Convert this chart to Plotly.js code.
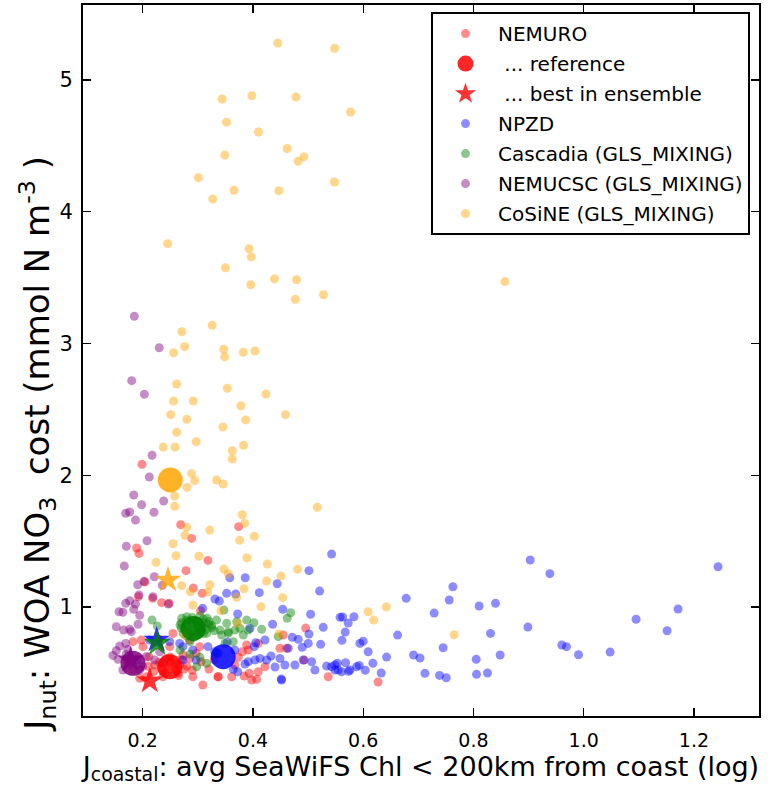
<!DOCTYPE html>
<html>
<head>
<meta charset="utf-8">
<script src="https://cdn.plot.ly/plotly-3.0.1.min.js"></script>
<style>html,body{margin:0;padding:0;background:#fff;}</style>
</head>
<body>
<div id="chart" style="width:784px;height:786px;"></div>
<script>
// ---------------- data ----------------
const seriesNames = ["NEMURO", "NPZD", "Cascadia (GLS_MIXING)", "NEMUCSC (GLS_MIXING)", "CoSiNE (GLS_MIXING)"];
const seriesColors = ["#ff0000", "#0000ff", "#008000", "#800080", "#ffa500"];

const nemuroX = [0.1987,0.374,0.2689,0.2888,0.189,0.1933,0.3184,0.2785,0.204,0.2918,0.218,0.192,0.2344,0.248,0.308,0.305,0.4955,0.255,0.1824,0.1975,0.2005,0.2296,0.2114,0.2218,0.2428,0.267,0.273,0.285,0.297,0.264,0.2368,0.2066,0.1946,0.291,0.306,0.309,0.3365,0.285,0.249,0.1824,0.1703,0.3034,0.337,0.3614,0.384,0.3977,0.4067,0.3933,0.4096,0.367,0.3734,0.3806,0.3915,0.4096,0.3886,0.455,0.449,0.461,0.493,0.5366,0.4218,0.627,0.26,0.25,0.235,0.275,0.32,0.33,0.21,0.22,0.23,0.24,0.26,0.27,0.28,0.29,0.25,0.265];
const nemuroY = [2.083,1.61,1.625,1.521,1.448,1.407,1.354,1.276,1.19,1.144,1.066,1.078,1.033,1.028,1.104,0.972,0.84,0.80,0.737,0.75,0.699,0.755,0.623,0.56,0.61,0.56,0.636,0.61,0.649,0.497,0.471,0.471,0.459,0.471,0.585,0.408,0.471,0.75,0.699,0.522,0.598,0.699,0.471,0.471,0.476,0.446,0.451,0.497,0.509,0.56,0.618,0.661,0.674,0.724,0.712,0.787,0.687,0.687,0.598,0.471,0.547,0.431,0.52,0.58,0.53,0.53,0.53,0.60,0.55,0.51,0.58,0.50,0.57,0.60,0.55,0.52,0.62,0.48];

const npzdX = [0.5427,0.903,0.9386,1.2437,0.7627,0.756,0.678,0.8103,0.84,0.7288,1.095,1.1712,1.1513,0.8987,0.831,0.6624,0.5627,0.5832,0.5728,0.5674,0.5614,0.594,0.6,0.609,0.6424,0.745,0.6914,0.703,0.9603,0.9688,0.9906,1.0479,0.805,0.8484,0.8056,0.8255,0.712,0.7385,0.7506,0.6176,0.6327,0.568,0.553,0.5735,0.588,0.5928,0.6037,0.5427,0.5487,0.358,0.386,0.444,0.5016,0.4115,0.3687,0.521,0.454,0.5046,0.3723,0.5275,0.5016,0.4357,0.4218,0.4713,0.4822,0.5003,0.4894,0.5228,0.405,0.4024,0.464,0.4327,0.449,0.4248,0.4127,0.458,0.4762,0.4912,0.5064,0.44,0.3915,0.4036,0.5124,0.5336,0.5487,0.5547,0.576,0.561,0.452,0.3723,0.3643,0.337,0.367,0.3534,0.3946,0.249,0.267,0.273,0.291,0.2127,0.3184,0.3306,0.273,0.297,0.331,0.339,0.3088,0.3523,0.4513,0.3855,0.558];
const npzdY = [1.402,1.357,1.253,1.306,1.154,1.053,1.066,1.008,1.028,0.954,0.907,0.985,0.82,0.848,0.80,0.787,0.924,0.926,0.879,0.81,0.747,0.724,0.74,0.661,0.62,0.691,0.636,0.613,0.712,0.699,0.638,0.658,0.603,0.636,0.489,0.499,0.497,0.481,0.463,0.573,0.499,0.577,0.573,0.512,0.547,0.557,0.52,0.547,0.522,1.222,1.222,1.177,1.276,1.109,1.099,1.121,0.983,0.945,0.947,0.846,0.795,0.869,0.75,0.77,0.755,0.724,0.694,0.717,0.729,0.699,0.687,0.628,0.61,0.598,0.61,0.56,0.56,0.598,0.585,0.545,0.585,0.598,0.522,0.552,0.56,0.522,0.522,0.509,0.446,0.509,0.527,0.649,0.674,0.734,0.838,0.737,0.724,0.699,0.674,0.75,0.699,0.661,0.598,0.598,1.061,1.046,0.99,1.104,0.453,0.567,0.922];

const cascadiaX = [0.3474,0.4684,0.4622,0.2169,0.2265,0.2707,0.2677,0.2798,0.3039,0.3171,0.3039,0.2918,0.316,0.3251,0.2737,0.2858,0.334,0.3523,0.3402,0.3553,0.3705,0.3765,0.3886,0.3915,0.4018,0.4158,0.3824,0.3643,0.2677,0.2858,0.3039,0.316,0.2979,0.334,0.3674,0.3553,0.3432,0.3492,0.446,0.28,0.29,0.30,0.31,0.285,0.305,0.295,0.275,0.31,0.32,0.27,0.28,0.29,0.30,0.31,0.32,0.325,0.315,0.30,0.28,0.27,0.29,0.30,0.31,0.33];
const cascadiaY = [0.977,0.957,0.914,0.901,0.856,0.914,0.863,0.926,0.932,0.914,0.80,0.77,0.80,0.843,0.80,0.737,0.901,0.876,0.825,0.813,0.888,0.838,0.901,0.825,0.881,0.831,0.787,0.737,0.674,0.643,0.618,0.573,0.547,0.649,0.825,0.80,0.787,0.724,0.775,0.86,0.88,0.86,0.85,0.80,0.82,0.90,0.83,0.88,0.87,0.88,0.90,0.92,0.89,0.91,0.89,0.86,0.83,0.79,0.78,0.84,0.82,0.84,0.80,0.82];

const nemucscX = [0.1848,0.230,0.18,0.203,0.2169,0.212,0.1837,0.198,0.238,0.1764,0.1692,0.187,0.2205,0.2078,0.1703,0.1666,0.221,0.2024,0.191,0.2356,0.1933,0.1764,0.1692,0.157,0.164,0.1837,0.1946,0.187,0.2187,0.2465,0.1521,0.1655,0.1764,0.1793,0.1915,0.1583,0.1692,0.1521,0.146,0.1552,0.173,0.2066,0.2218,0.2308,0.164,0.1946,0.2368,0.175,0.19,0.2,0.17];
const nemucscY = [3.206,2.968,2.718,2.614,2.151,1.987,1.85,1.776,1.8045,1.721,1.711,1.66,1.719,1.503,1.461,1.311,1.23,1.195,1.169,1.165,1.091,1.048,1.028,0.964,0.96,0.983,0.937,1.023,1.078,1.023,0.85,0.825,0.831,0.813,0.869,0.704,0.724,0.668,0.633,0.603,0.679,0.623,0.598,0.661,0.522,0.522,0.573,0.56,0.60,0.55,0.64];

const cosineX = [0.445,0.548,0.344,0.398,0.478,0.577,0.352,0.41,0.462,0.4925,0.482,0.349,0.301,0.3656,0.327,0.447,0.548,0.2453,0.393,0.397,0.35,0.439,0.479,0.396,0.4767,0.528,0.326,0.271,0.276,0.256,0.347,0.3487,0.3824,0.4036,0.2617,0.3534,0.4236,0.256,0.2918,0.378,0.2508,0.459,0.28,0.3868,0.2617,0.3456,0.297,0.2374,0.2586,0.383,0.3625,0.3625,0.2888,0.2943,0.2803,0.334,0.346,0.258,0.258,0.5166,0.3806,0.385,0.2798,0.2767,0.3215,0.3759,0.4024,0.255,0.2604,0.302,0.389,0.2241,0.3474,0.3552,0.426,0.481,0.4508,0.4248,0.2707,0.322,0.3837,0.3705,0.454,0.4145,0.342,0.447,0.373,0.2863,0.318,0.291,0.276,0.609,0.619,0.6418,0.765,0.857];
const cosineY = [5.28,5.24,4.856,4.88,4.87,4.757,4.68,4.605,4.48,4.418,4.383,4.43,4.258,4.163,4.097,4.16,4.226,3.758,3.72,3.657,3.575,3.49,3.484,3.446,3.335,3.37,3.138,3.09,2.976,2.93,2.956,2.898,2.933,2.943,2.693,2.66,2.617,2.564,2.564,2.528,2.46,2.46,2.425,2.42,2.326,2.366,2.255,2.214,2.214,2.227,2.186,2.123,2.012,1.959,1.908,1.964,1.934,1.8425,1.764,1.757,1.70,1.635,1.605,1.544,1.584,1.506,1.537,1.48,1.389,1.385,1.374,1.339,1.288,1.253,1.326,1.286,1.235,1.197,1.162,1.169,1.139,1.074,1.071,1.002,0.972,0.795,0.876,1.116,1.114,1.015,0.787,0.964,0.901,1.0,0.79,3.47];

// reference run of each model (order as seriesNames)
const refX = [0.249, 0.346, 0.2918, 0.1824, 0.25];
const refY = [0.547, 0.623, 0.838, 0.573, 1.964];
// best ensemble member of each model (NEMUCSC hidden under its cluster)
const bestX = [0.2127, 0.2254, 0.2265, 0.178, 0.2459];
const bestY = [0.44, 0.75, 0.724, 0.60, 1.205];

const tickVals = [0.2, 0.4, 0.6, 0.8, 1.0, 1.2];
const tickText = ["0.2", "0.4", "0.6", "0.8", "1.0", "1.2"];

const xTitle = 'J<sub>coastal</sub>: avg SeaWiFS Chl < 200km from coast (log)';
const yTitle = 'J<sub>nut</sub>: WOA NO<sub>3</sub>  cost (mmol N m<sup>-3</sup> )';

// ---------------- traces ----------------
const xs = [nemuroX, npzdX, cascadiaX, nemucscX, cosineX];
const ys = [nemuroY, npzdY, cascadiaY, nemucscY, cosineY];
const traces = [];
const rankSmall = [1, 4, 5, 6, 7];
for (let i = 0; i < 5; i++) {
  traces.push({
    type: 'scatter', mode: 'markers', x: xs[i], y: ys[i], name: seriesNames[i],
    legendgroup: 'g' + i, legendrank: rankSmall[i],
    marker: {color: seriesColors[i], size: 9, opacity: 0.45, line: {width: 0}}
  });
}
for (let i = 0; i < 5; i++) {
  traces.push({
    type: 'scatter', mode: 'markers', x: [refX[i]], y: [refY[i]],
    name: '&nbsp;... reference', showlegend: i === 0,
    legendgroup: 'r' + i, legendrank: 2,
    marker: {color: seriesColors[i], size: 25, opacity: 0.85, line: {width: 0}}
  });
}
for (let i = 0; i < 5; i++) {
  traces.push({
    type: 'scatter', mode: 'markers', x: [bestX[i]], y: [bestY[i]],
    name: '&nbsp;... best in ensemble', showlegend: i === 0,
    legendgroup: 'b' + i, legendrank: 3,
    marker: {color: seriesColors[i], size: 20, symbol: 'star', opacity: 0.8, line: {width: 0}}
  });
}

const layout = {
  width: 784, height: 786,
  margin: {l: 83, r: 25, t: 5, b: 70},
  paper_bgcolor: '#fff', plot_bgcolor: '#fff',
  font: {family: 'DejaVu Sans, sans-serif', color: '#000', size: 17},
  showlegend: true,
  xaxis: {
    range: [0.0917, 1.318], tickvals: tickVals, ticktext: tickText,
    ticks: 'inside', ticklen: 8, tickwidth: 1.2, tickcolor: '#000',
    showline: true, linecolor: '#000', linewidth: 2, mirror: 'ticks',
    showgrid: false, zeroline: false,
    tickfont: {size: 19},
    ticklabelstandoff: 6,
    title: {text: xTitle, font: {size: 27}, standoff: 4}
  },
  yaxis: {
    range: [0.173, 5.569], dtick: 1, tick0: 0,
    ticks: 'inside', ticklen: 8, tickwidth: 1.2, tickcolor: '#000',
    showline: true, linecolor: '#000', linewidth: 2, mirror: 'ticks',
    showgrid: false, zeroline: false,
    tickfont: {size: 21},
    ticklabelstandoff: 4
  },
  annotations: [{
    text: yTitle, textangle: -90, showarrow: false,
    xref: 'paper', yref: 'paper', x: -0.067, y: 0.3826,
    xanchor: 'center', yanchor: 'middle',
    font: {size: 34}
  }],
  legend: {
    x: 0.9867, y: 0.99, xanchor: 'right', yanchor: 'top',
    bgcolor: '#fff', bordercolor: '#000', borderwidth: 2,
    font: {size: 20}, traceorder: 'grouped', tracegroupgap: 1, itemwidth: 55
  }
};

Plotly.newPlot('chart', traces, layout, {displayModeBar: false, staticPlot: true});
</script>
</body>
</html>
